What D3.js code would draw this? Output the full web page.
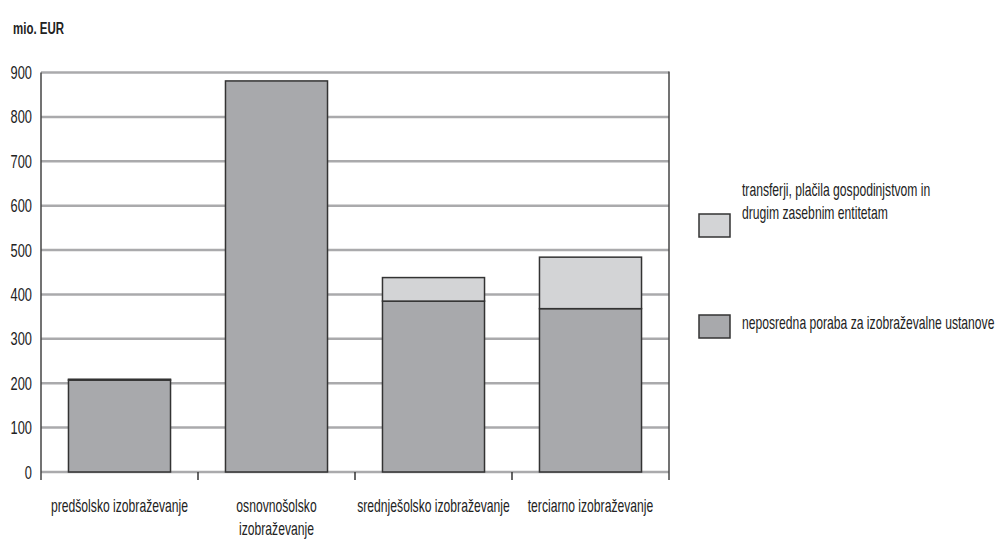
<!DOCTYPE html>
<html><head><meta charset="utf-8">
<script src="https://cdn.jsdelivr.net/npm/d3@7"></script>
<style>body{margin:0;background:#fff}svg{display:block}</style>
</head><body>
<svg id="c" width="999" height="539"></svg>
<script>
const categories = [["predšolsko izobraževanje"], ["osnovnošolsko", "izobraževanje"], ["srednješolsko izobraževanje"], ["terciarno izobraževanje"]];
const direct = [207, 881, 385, 368];
const transfers = [2, 0, 53, 116];
const seriesNames = [["transferji, plačila gospodinjstvom in", "drugim zasebnim entitetam"], ["neposredna poraba za izobraževalne ustanove"]];
const yTicks = [0, 100, 200, 300, 400, 500, 600, 700, 800, 900];
const unitLabel = "mio. EUR";

const FONT = "'Liberation Sans', Arial, sans-serif";
const SQ = 0.675; // horizontal condensing of the text
const svg = d3.select("#c");
const x = d3.scaleBand().domain(d3.range(categories.length)).range([41, 669]).paddingInner(0.35).paddingOuter(0.175);
const y = d3.scaleLinear().domain([0, 900]).range([472, 72.5]);

// condensed text: placed with a transform that scales it horizontally
function ctext(parent, tx, ty, str, size, anchor, weight) {
  return parent.append("text")
    .attr("transform", `translate(${tx},${ty}) scale(${SQ},1)`)
    .attr("text-anchor", anchor || "start")
    .attr("font-family", FONT).attr("font-size", size)
    .attr("font-weight", weight || "normal")
    .attr("fill", "#222").text(str);
}

// gridlines
svg.append("g").selectAll("line").data(yTicks).join("line")
  .attr("x1", 41).attr("x2", 669).attr("y1", d => y(d)).attr("y2", d => y(d))
  .attr("stroke", "#aaaaac").attr("stroke-width", 2.5);

// y axis line and right border
svg.append("line").attr("x1", 41).attr("x2", 41).attr("y1", y(900)).attr("y2", 480).attr("stroke", "#444").attr("stroke-width", 1.5);
svg.append("line").attr("x1", 669).attr("x2", 669).attr("y1", y(900) - 1).attr("y2", 480).attr("stroke", "#444").attr("stroke-width", 1.5);

// x ticks at band boundaries
const step = x.step();
const bounds = d3.range(1, categories.length).map(i => x(i) - x.paddingInner() * step / 2);
svg.append("g").selectAll("line").data(bounds).join("line")
  .attr("x1", d => d).attr("x2", d => d).attr("y1", y(0)).attr("y2", 480)
  .attr("stroke", "#333").attr("stroke-width", 1.5);

// y tick labels
const yl = svg.append("g");
yTicks.forEach(d => ctext(yl, 32, y(d) + 6.5, d, 19, "end"));

// bars
const bars = svg.append("g");
bars.selectAll("rect.d").data(direct).join("rect").attr("class", "d")
  .attr("x", (d, i) => x(i)).attr("width", x.bandwidth())
  .attr("y", d => y(d)).attr("height", d => y(0) - y(d))
  .attr("fill", "#a8a9ac").attr("stroke", "#333").attr("stroke-width", 1.5);
bars.selectAll("rect.t").data(transfers).join("rect").attr("class", "t")
  .attr("x", (d, i) => x(i)).attr("width", x.bandwidth())
  .attr("y", (d, i) => y(direct[i] + d)).attr("height", (d, i) => y(direct[i]) - y(direct[i] + d))
  .attr("fill", "#d3d4d6").attr("stroke", "#333").attr("stroke-width", 1.5)
  .attr("display", d => d > 0 ? null : "none");

// x labels
const xl = svg.append("g");
categories.forEach((lines, i) => {
  lines.forEach((t, j) => ctext(xl, x(i) + x.bandwidth() / 2, 512 + j * 23, t, 18, "middle"));
});

// unit label
ctext(svg, 13, 34, unitLabel, 17, "start", "bold");

// legend
const legColors = ["#d3d4d6", "#a8a9ac"];
const legBoxY = [214, 315];
const leg = svg.append("g");
seriesNames.forEach((lines, k) => {
  leg.append("rect").attr("x", 699).attr("y", legBoxY[k]).attr("width", 31).attr("height", 23)
    .attr("fill", legColors[k]).attr("stroke", "#333").attr("stroke-width", 1.5);
  lines.forEach((t, j) => ctext(leg, 742, k === 0 ? 196 + j * 23 : 329, t, 18));
});
</script>
</body></html>
